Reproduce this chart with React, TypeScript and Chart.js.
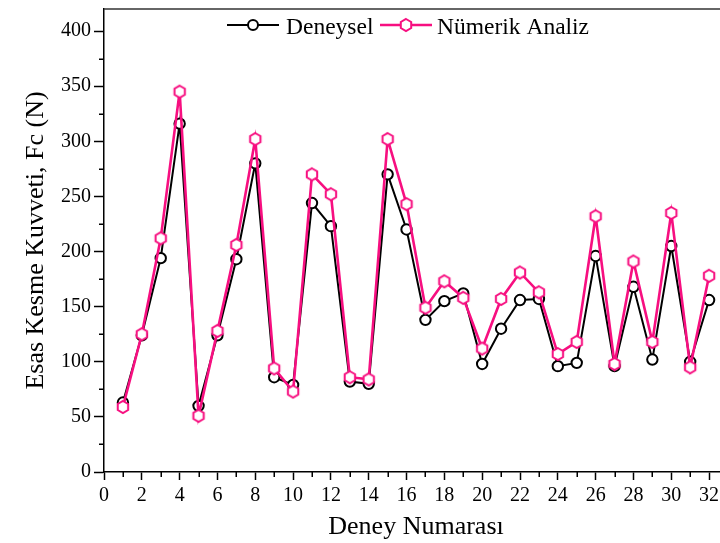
import React, { useEffect, useRef } from 'react';
import { Chart, registerables } from 'chart.js';

Chart.register(...registerables);

const deneyNo = [1, 2, 3, 4, 5, 6, 7, 8, 9, 10, 11, 12, 13, 14, 15, 16, 17, 18, 19, 20, 21, 22, 23, 24, 25, 26, 27, 28, 29, 30, 31, 32];
const deneysel = [63, 124, 194, 316, 60, 124, 193, 280, 86, 79, 244, 223, 82, 80, 270, 220, 138, 155, 162, 98, 130, 156, 157, 96, 99, 196, 96, 168, 102, 205, 100, 156];
const numerik = [59, 125, 212, 345, 51, 128, 206, 302, 94, 73, 270, 252, 86, 84, 302, 243, 149, 173, 158, 112, 157, 181, 163, 107, 118, 232, 98, 191, 118, 235, 95, 178];

const seriesNames = ['Deneysel', 'Nümerik Analiz'];
const xTitle = 'Deney Numarası';
const yTitle = 'Esas Kesme Kuvveti, Fc (N)';

const PINK = '#F70F80';
const FONT = '"Liberation Serif", "Times New Roman", serif';

function makeHexagon(size: number, r: number, color: string) {
  const c = document.createElement('canvas');
  c.width = size;
  c.height = size;
  const g = c.getContext('2d')!;
  const cx = size / 2, cy = size / 2;
  g.beginPath();
  for (let k = 0; k < 6; k++) {
    const a = -Math.PI / 2 + (k * Math.PI) / 3;
    const px = cx + r * Math.cos(a);
    const py = cy + r * Math.sin(a);
    if (k === 0) g.moveTo(px, py); else g.lineTo(px, py);
  }
  g.closePath();
  g.fillStyle = '#fff';
  g.fill();
  g.lineWidth = 2;
  g.strokeStyle = color;
  g.stroke();
  return c;
}

export default function App() {
  const ref = useRef<HTMLCanvasElement>(null);

  useEffect(() => {
    if (!ref.current) return;
    const hex = makeHexagon(18, 6, PINK);

    const decor = {
      id: 'decor',
      afterDraw(chart: any) {
        const { ctx, chartArea, scales } = chart;
        const xs = scales.x, ys = scales.y;
        ctx.save();
        // frame top
        ctx.strokeStyle = '#333';
        ctx.lineWidth = 1.5;
        ctx.beginPath();
        ctx.moveTo(chartArea.left, chartArea.top);
        ctx.lineTo(chartArea.right, chartArea.top);
        ctx.stroke();
        // minor ticks
        ctx.strokeStyle = '#000';
        ctx.lineWidth = 1.5;
        ctx.beginPath();
        ys.ticks.forEach((t: any) => {
          if (t.value % 50 !== 0) {
            const py = Math.round(ys.getPixelForValue(t.value)) + 0.25;
            ctx.moveTo(chartArea.left - 5, py);
            ctx.lineTo(chartArea.left, py);
          }
        });
        xs.ticks.forEach((t: any) => {
          if (t.value % 2 !== 0) {
            const px = Math.round(xs.getPixelForValue(t.value)) + 0.25;
            ctx.moveTo(px, chartArea.bottom);
            ctx.lineTo(px, chartArea.bottom + 5);
          }
        });
        ctx.stroke();

        // legend
        const ly = 25;
        ctx.font = `23.5px ${FONT}`;
        ctx.textBaseline = 'alphabetic';
        ctx.strokeStyle = '#000';
        ctx.lineWidth = 2;
        ctx.beginPath();
        ctx.moveTo(227, ly);
        ctx.lineTo(279, ly);
        ctx.stroke();
        ctx.beginPath();
        ctx.arc(253, ly, 5, 0, Math.PI * 2);
        ctx.fillStyle = '#fff';
        ctx.fill();
        ctx.stroke();
        ctx.fillStyle = '#000';
        ctx.fillText(seriesNames[0], 286, 34);
        ctx.strokeStyle = PINK;
        ctx.lineWidth = 2.5;
        ctx.beginPath();
        ctx.moveTo(380, ly);
        ctx.lineTo(432, ly);
        ctx.stroke();
        ctx.drawImage(hex, 406 - hex.width / 2, ly - hex.height / 2);
        ctx.fillStyle = '#000';
        ctx.fillText(seriesNames[1], 437, 34);
        ctx.restore();
      },
    };

    const tickFont = { family: FONT, size: 20 };
    const titleFont = { family: FONT, size: 26 };

    const chart = new Chart(ref.current, {
      type: 'line',
      data: {
        datasets: [
          {
            label: seriesNames[0],
            data: deneyNo.map((x, i) => ({ x, y: deneysel[i] })),
            borderColor: '#000',
            borderWidth: 2,
            pointStyle: 'circle',
            pointRadius: 5.2,
            pointBorderWidth: 2,
            pointBackgroundColor: '#fff',
            pointBorderColor: '#000',
            tension: 0,
            order: 1,
          },
          {
            label: seriesNames[1],
            data: deneyNo.map((x, i) => ({ x, y: numerik[i] })),
            borderColor: PINK,
            borderWidth: 2.6,
            pointStyle: hex as any,
            pointRadius: 6,
            pointBackgroundColor: '#fff',
            pointBorderColor: PINK,
            tension: 0,
            order: 0,
          },
        ],
      },
      options: {
        responsive: false,
        animation: false,
        layout: { padding: { left: 0, right: 12, top: 9, bottom: 0 } },
        plugins: {
          legend: { display: false },
          tooltip: { enabled: false },
        },
        scales: {
          x: {
            type: 'linear',
            min: 0,
            max: 33,
            ticks: {
              stepSize: 1,
              includeBounds: false,
              autoSkip: false,
              maxRotation: 0,
              color: '#000',
              font: tickFont,
              padding: 4,
              callback: (v: any) => (v % 2 === 0 ? String(v) : ''),
            },
            grid: {
              drawOnChartArea: false,
              drawTicks: true,
              tickLength: 8,
              tickWidth: 1.5,
              tickColor: (c: any) => (c.tick && c.tick.value % 2 === 0 ? '#000' : 'rgba(0,0,0,0)'),
            },
            border: { display: true, color: '#000', width: 1.5 },
            title: {
              display: true,
              text: xTitle,
              color: '#000',
              font: titleFont,
              padding: { top: 0, bottom: 0 },
            },
            afterFit: (s: any) => { s.height = 71; s.paddingLeft = 0; s.paddingRight = 0; },
          },
          y: {
            type: 'linear',
            min: 0,
            max: 420,
            ticks: {
              stepSize: 25,
              includeBounds: false,
              autoSkip: false,
              color: '#000',
              font: tickFont,
              padding: 3,
              callback: (v: any) => (v % 50 === 0 ? String(v) : ''),
            },
            grid: {
              drawOnChartArea: false,
              drawTicks: true,
              tickLength: 10,
              tickWidth: 1.5,
              tickColor: (c: any) => (c.tick && c.tick.value % 50 === 0 ? '#000' : 'rgba(0,0,0,0)'),
            },
            border: { display: true, color: '#000', width: 1.5 },
            title: {
              display: true,
              text: yTitle,
              color: '#000',
              font: titleFont,
              padding: { top: 21, bottom: 0 },
            },
            afterFit: (s: any) => { s.width = 104; s.paddingTop = 0; s.paddingBottom = 0; },
          },
        },
      },
      plugins: [decor],
    });
    return () => chart.destroy();
  }, []);

  return (
    <div style={{ position: 'absolute', left: 0, top: 0, width: 720, height: 543, overflow: 'hidden', background: '#fff' }}>
      <canvas ref={ref} width={740} height={543} style={{ display: 'block' }} />
    </div>
  );
}
